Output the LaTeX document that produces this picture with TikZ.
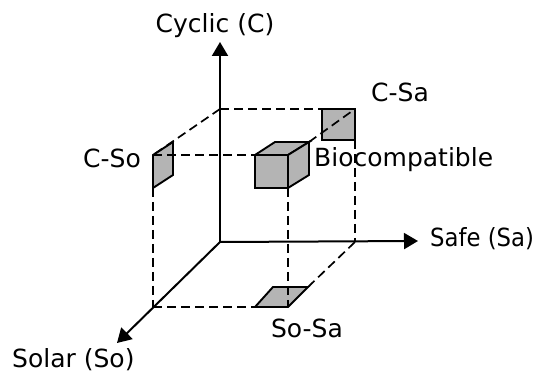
\documentclass[tikz,border=0pt]{standalone}
\usepackage{fontspec}
\setmainfont{DejaVu Sans}
\usetikzlibrary{arrows.meta}
\definecolor{facegray}{RGB}{180,180,180}
\begin{document}
\begin{tikzpicture}[x=1pt,y=-1pt,
  axis/.style={line width=2pt,-{Triangle[length=14pt,width=16pt]}},
  guide/.style={line width=1.7pt,dash pattern=on 9pt off 5pt,draw=black},
  face/.style={draw=black,line width=1.9pt,fill=facegray,line join=miter},
  lbl/.style={font=\fontsize{25}{28}\selectfont,inner sep=0pt}]
\useasboundingbox (0,0) rectangle (539,379);

% axes
\coordinate (O) at (220,242);
\coordinate (Ctip) at (220,42);
\coordinate (Satip) at (418,241);
\coordinate (Sotip) at (117,343);

% corners of the guide box
\coordinate (ctop) at (220,109);
\coordinate (sapt) at (355,242);
\coordinate (sopt) at (153,307);

% C-Sa face
\coordinate (csaTL) at (322,109);
\coordinate (csaTR) at (355,109);
\coordinate (csaBR) at (355,140);
\coordinate (csaBL) at (322,140);
% C-So face
\coordinate (csoTL) at (153,155);
\coordinate (csoTR) at (173,142);
\coordinate (csoBR) at (173,175);
\coordinate (csoBL) at (153,188);
% cube
\coordinate (fTL) at (255,155);
\coordinate (fTR) at (288,155);
\coordinate (fBR) at (288,188);
\coordinate (fBL) at (255,188);
\coordinate (bTL) at (275,142);
\coordinate (bTR) at (309,142);
\coordinate (bBR) at (309,175);
% So-Sa face
\coordinate (ssBL) at (255,307);
\coordinate (ssBR) at (288,307);
\coordinate (ssTR) at (308,287);
\coordinate (ssTL) at (273,287);

% projection faces
\draw[face] (csaTL) -- (csaTR) -- (csaBR) -- (csaBL) -- cycle;
\draw[face] (csoTL) -- (csoTR) -- (csoBR) -- (csoBL) -- cycle;
\draw[face] (ssBL) -- (ssBR) -- (ssTR) -- (ssTL) -- cycle;

% dashed guides
\draw[guide] (ctop) -- (csaTL);
\draw[guide] (ctop) -- (csoTL);
\draw[guide] (csoTL) -- (fTL);
\draw[guide] (csoBL) -- (sopt);
\draw[guide] (sopt) -- (ssBL);
\draw[guide] (fBR) -- (ssBR);
\draw[guide] (ssTR) -- (sapt);
\draw[guide] (csaBR) -- (sapt);
\draw[guide] (bTR) -- (csaTR);

% axes on top
\draw[axis] (O) -- (Ctip);
\draw[axis] (O) -- (Satip);
\draw[axis] (O) -- (Sotip);

% cube
\draw[face] (fTL) -- (fTR) -- (fBR) -- (fBL) -- cycle;
\draw[face] (fTL) -- (bTL) -- (bTR) -- (fTR) -- cycle;
\draw[face] (fTR) -- (bTR) -- (bBR) -- (fBR) -- cycle;

% labels
\node[lbl,anchor=base] (lc) at (215,33) {Cyclic (C)};
\node[lbl,anchor=base] (lcsa) at (400,102) {C-Sa};
\node[lbl,anchor=base west] (lbio) at (314,167) {Biocompatible};
\node[lbl,anchor=base east] (lcso) at (141,168) {C-So};
\node[lbl,anchor=base west] (lsa) at (430,247) {\scalebox{0.91}[1]{Safe (Sa)}};
\node[lbl,anchor=base west] (lso) at (12,368) {Solar (So)};
\node[lbl,anchor=base] (lsosa) at (307,338) {So-Sa};
\end{tikzpicture}
\end{document}
